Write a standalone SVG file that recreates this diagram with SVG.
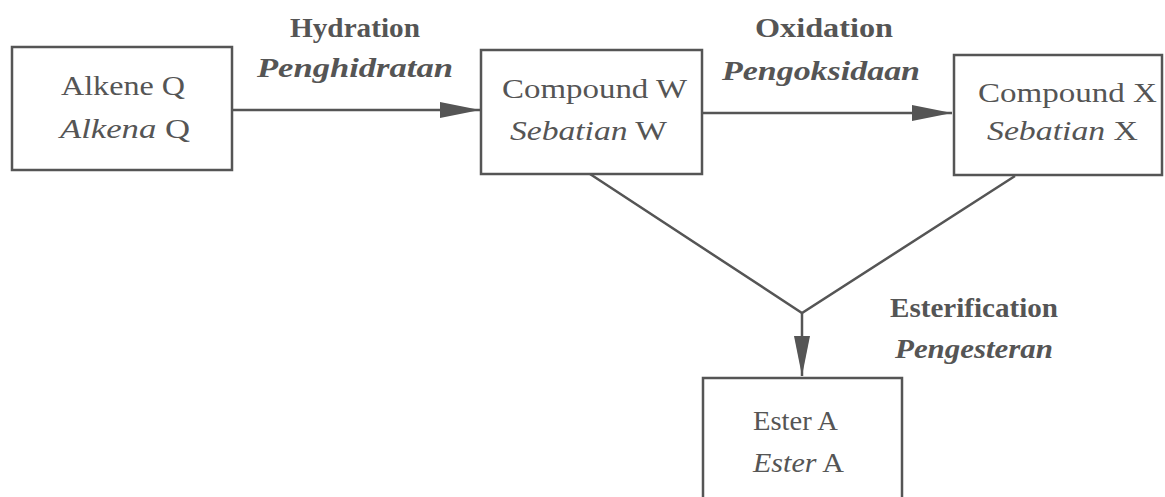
<svg xmlns="http://www.w3.org/2000/svg" width="1165" height="497" viewBox="0 0 1165 497">
<style>
.box{fill:#fff;stroke:#555;stroke-width:2.5}
.ln{fill:none;stroke:#555;stroke-width:2.5}
text{font-family:"Liberation Serif","Times New Roman",serif;fill:#555;font-size:28px}
.b{font-weight:bold}
.i{font-style:italic}
</style>
<defs>
<marker id="ah" viewBox="0 0 40 16" refX="40" refY="8" markerWidth="40" markerHeight="16" markerUnits="userSpaceOnUse" orient="auto">
<path d="M0,0 L40,8 L0,16 Z" fill="#555"/>
</marker>
</defs>
<rect width="1165" height="497" fill="#fff"/>
<g id="connectors">
<line class="ln" x1="232" y1="110" x2="480" y2="110" marker-end="url(#ah)"/>
<line class="ln" x1="702" y1="113" x2="952" y2="113" marker-end="url(#ah)"/>
<polyline class="ln" points="590,174 802,313 1015,176"/>
<line class="ln" x1="802" y1="313" x2="802" y2="376" marker-end="url(#ah)"/>
<text class="b" x="290" y="37" textLength="130" lengthAdjust="spacingAndGlyphs">Hydration</text>
<text class="b i" x="257" y="77" textLength="196" lengthAdjust="spacingAndGlyphs">Penghidratan</text>
<text class="b" x="755" y="37" textLength="138" lengthAdjust="spacingAndGlyphs">Oxidation</text>
<text class="b i" x="722" y="80" textLength="198" lengthAdjust="spacingAndGlyphs">Pengoksidaan</text>
<text class="b" x="890" y="317" textLength="168" lengthAdjust="spacingAndGlyphs">Esterification</text>
<text class="b i" x="895" y="358" textLength="158" lengthAdjust="spacingAndGlyphs">Pengesteran</text>
</g>
<g id="alkeneQ">
<rect class="box" x="12" y="47" width="220" height="123"/>
<text x="61" y="95" textLength="124" lengthAdjust="spacingAndGlyphs">Alkene Q</text>
<text x="60" y="138" textLength="130" lengthAdjust="spacingAndGlyphs"><tspan class="i">Alkena</tspan> Q</text>
</g>
<g id="compoundW">
<rect class="box" x="481" y="50" width="221" height="124"/>
<text x="502" y="98" textLength="185" lengthAdjust="spacingAndGlyphs">Compound W</text>
<text x="510" y="140" textLength="157" lengthAdjust="spacingAndGlyphs"><tspan class="i">Sebatian</tspan> W</text>
</g>
<g id="compoundX">
<rect class="box" x="954" y="55" width="208" height="120"/>
<text x="978" y="102" textLength="179" lengthAdjust="spacingAndGlyphs">Compound X</text>
<text x="987" y="140" textLength="151" lengthAdjust="spacingAndGlyphs"><tspan class="i">Sebatian</tspan> X</text>
</g>
<g id="esterA">
<rect class="box" x="703" y="378" width="199" height="140"/>
<text x="753" y="430" textLength="85" lengthAdjust="spacingAndGlyphs">Ester A</text>
<text x="753" y="472" textLength="91" lengthAdjust="spacingAndGlyphs"><tspan class="i">Ester</tspan> A</text>
</g>
</svg>
